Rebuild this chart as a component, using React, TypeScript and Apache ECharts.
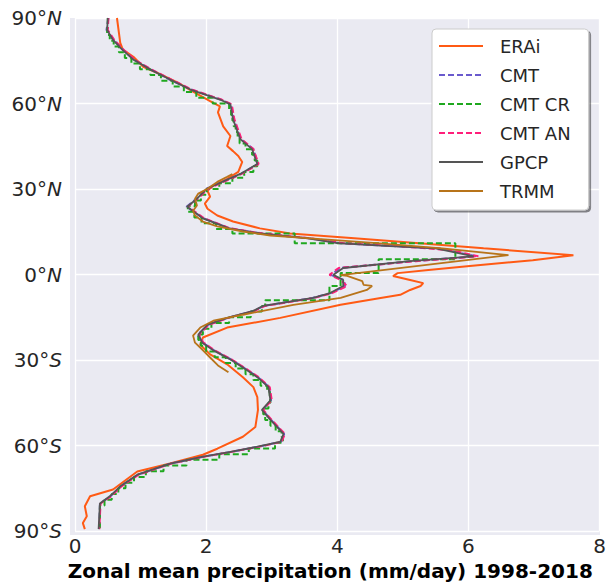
import React, { useEffect, useRef } from "react";
import * as echarts from "echarts";

// ---------- data (latitude in degrees, precipitation in mm/day) ----------
const xTickLabels = ["0", "2", "4", "6", "8"];
const yTickValues = [-90, -60, -30, 0, 30, 60, 90];
const yTickNumbers = ["90°", "60°", "30°", "0°", "30°", "60°", "90°"];
const yTickHemis = ["S", "S", "S", "N", "N", "N", "N"];
const xAxisTitle = "Zonal mean precipitation (mm/day) 1998-2018";

const seriesNames = ["ERAi", "CMT", "CMT CR", "CMT AN", "GPCP", "TRMM"];

const eraiLat = [90, 81.3, 78.9, 76.4, 72.9, 70.8, 67.4, 64.2, 60.8, 59.0, 56.9, 52.0, 48.6, 45.1, 43.3, 41.6, 39.5, 36.0, 33.6, 31.2, 29.4, 27.3, 24.9, 23.1, 20.7, 18.6, 16.2, 14.4, 12.7, 11.0, 9.2, 6.8, 5.0, 3.0, 1.6, 0.5, -0.5, -1.9, -3.0, -4.0, -5.4, -7.1, -8.2, -10.6, -15.2, -18.6, -22.1, -24.6, -28.0, -31.5, -36.0, -39.5, -43.0, -47.5, -53.5, -56.9, -61.1, -63.2, -66.3, -69.1, -75.4, -77.8, -81.3, -84.8, -87.2, -89.3];
const eraiVal = [0.64, 0.69, 0.73, 0.89, 1.04, 1.25, 1.56, 1.80, 2.06, 2.21, 2.18, 2.26, 2.37, 2.32, 2.41, 2.49, 2.55, 2.49, 2.32, 2.11, 2.02, 2.06, 1.98, 2.02, 2.17, 2.41, 2.82, 3.28, 4.26, 5.25, 6.23, 7.60, 6.98, 6.02, 5.39, 4.92, 4.85, 5.11, 5.31, 5.27, 5.11, 4.96, 4.66, 4.05, 3.13, 2.32, 1.95, 1.91, 2.06, 2.32, 2.56, 2.72, 2.78, 2.79, 2.75, 2.56, 2.17, 1.95, 1.45, 0.95, 0.58, 0.23, 0.15, 0.18, 0.12, 0.15];

const gpcpLat = [90, 85.8, 82.3, 78.9, 75.4, 71.9, 68.4, 64.9, 61.4, 59.7, 54.5, 47.5, 44.0, 38.8, 35.3, 30.1, 26.6, 23.8, 19.7, 16.2, 14.4, 12.7, 11.0, 10.0, 9.2, 6.4, 4.7, 2.3, -0.1, -1.9, -4.0, -6.5, -8.2, -11.0, -12.7, -15.2, -17.6, -21.1, -23.9, -26.6, -29.8, -32.6, -36.0, -39.5, -44.1, -47.5, -51.0, -55.9, -58.7, -60.4, -62.2, -63.9, -66.3, -70.2, -74.3, -77.8, -80.3, -89.3];
const gpcpVal = [0.50, 0.49, 0.58, 0.72, 0.89, 1.15, 1.45, 1.76, 2.21, 2.37, 2.41, 2.52, 2.70, 2.78, 2.52, 2.01, 1.86, 1.71, 1.95, 2.35, 2.82, 3.55, 4.00, 4.80, 5.50, 6.08, 5.11, 4.09, 3.94, 4.09, 4.09, 3.89, 3.63, 2.87, 2.72, 2.32, 2.02, 1.88, 1.94, 2.11, 2.37, 2.56, 2.78, 2.95, 2.98, 2.85, 2.98, 3.18, 3.13, 2.78, 2.37, 1.95, 1.45, 0.95, 0.69, 0.53, 0.38, 0.36];

const cmtLat = [90, 85.8, 82.3, 78.9, 75.4, 71.9, 68.4, 64.9, 61.4, 59.7, 54.5, 47.5, 44.0, 38.8, 35.3, 30.1, 26.6, 23.8, 19.7, 16.2, 14.4, 12.7, 11.0, 10.0, 9.2, 6.4, 4.7, 2.3, -0.1, -1.9, -4.0, -6.5, -8.2, -11.0, -12.7, -15.2, -17.6, -21.1, -23.9, -26.6, -29.8, -32.6, -36.0, -39.5, -44.1, -47.5, -51.0, -55.9, -58.7, -60.4, -62.2, -63.9, -66.3, -70.2, -74.3, -77.8, -80.3, -89.3];
const cmtVal = [0.51, 0.48, 0.59, 0.73, 0.90, 1.16, 1.44, 1.77, 2.22, 2.38, 2.42, 2.53, 2.72, 2.79, 2.53, 2.00, 1.85, 1.70, 1.96, 2.36, 2.84, 3.58, 4.05, 4.85, 5.55, 6.12, 5.15, 4.05, 3.90, 4.10, 4.12, 3.90, 3.62, 2.88, 2.73, 2.33, 2.03, 1.87, 1.95, 2.12, 2.38, 2.57, 2.79, 2.96, 2.99, 2.86, 2.99, 3.19, 3.14, 2.79, 2.38, 1.96, 1.46, 0.96, 0.70, 0.54, 0.38, 0.37];

const cmtAnLat = [90, 85.8, 82.3, 78.9, 75.4, 71.9, 68.4, 64.9, 61.4, 59.7, 54.5, 47.5, 44.0, 38.8, 35.3, 30.1, 26.6, 23.8, 19.7, 16.2, 14.4, 12.7, 11.0, 10.0, 8.5, 6.4, 4.7, 2.3, -0.1, -1.9, -4.0, -6.5, -8.2, -11.0, -12.7, -15.2, -17.6, -21.1, -23.9, -26.6, -29.8, -32.6, -36.0, -39.5, -44.1, -47.5, -51.0, -55.9, -58.7, -60.4, -62.2, -63.9, -66.3, -70.2, -74.3, -77.8, -80.3, -89.3];
const cmtAnVal = [0.51, 0.50, 0.60, 0.74, 0.91, 1.17, 1.47, 1.78, 2.23, 2.39, 2.43, 2.54, 2.72, 2.80, 2.54, 2.03, 1.87, 1.72, 1.97, 2.37, 2.86, 3.60, 4.10, 4.90, 5.75, 6.15, 5.20, 4.02, 3.88, 4.05, 4.15, 3.92, 3.65, 2.90, 2.74, 2.34, 2.04, 1.89, 1.96, 2.13, 2.39, 2.58, 2.80, 2.97, 3.00, 2.87, 3.00, 3.20, 3.15, 2.80, 2.39, 1.97, 1.47, 0.97, 0.71, 0.55, 0.39, 0.37];

const cmtCrLat = [90, 88, 86, 84, 82, 80, 78, 76, 74, 72, 70, 68, 66, 64, 62, 60, 58, 56, 54, 52, 50, 48, 46, 44, 42, 40, 38, 36, 34, 32, 30, 28, 26, 24, 22, 20, 18, 16, 14.4, 11.0, 5.4, 0.5, -4.0, -9.0, -11, -13, -15, -17, -19, -21, -23, -25, -27, -29, -31, -33, -35, -37, -39, -41, -43, -45, -47, -49, -51, -53, -55, -57, -59, -61, -63, -65, -67, -69, -71, -73, -75, -77, -79, -81, -90];
const cmtCrVal = [0.50, 0.49, 0.49, 0.53, 0.59, 0.67, 0.76, 0.86, 0.99, 1.15, 1.31, 1.49, 1.66, 1.85, 2.10, 2.35, 2.38, 2.40, 2.42, 2.45, 2.48, 2.51, 2.60, 2.70, 2.74, 2.78, 2.72, 2.58, 2.40, 2.20, 2.01, 1.92, 1.83, 1.72, 1.82, 1.93, 2.15, 2.40, 3.35, 5.80, 4.63, 4.05, 3.88, 2.90, 2.85, 2.68, 2.35, 2.08, 1.95, 1.88, 1.92, 2.00, 2.13, 2.30, 2.45, 2.60, 2.72, 2.83, 2.93, 2.97, 2.98, 2.95, 2.87, 2.90, 2.98, 3.06, 3.15, 3.17, 3.05, 2.65, 2.20, 1.70, 1.35, 1.08, 0.90, 0.77, 0.66, 0.56, 0.45, 0.38, 0.38];

const trmmLat = [35.3, 34.3, 32.5, 30.1, 28.4, 26.6, 24.2, 22.4, 20.7, 18.6, 16.9, 15.1, 13.7, 12.7, 11.0, 9.2, 6.8, -0.2, -0.5, -2.3, -3.6, -4.0, -5.4, -8.2, -10.6, -14.1, -16.2, -18.6, -21.4, -23.9, -26.3, -29.1, -31.9, -34.3];
const trmmVal = [2.40, 2.32, 2.17, 2.02, 1.88, 1.83, 1.86, 1.80, 1.83, 1.95, 2.17, 2.56, 2.98, 3.59, 4.60, 5.60, 6.61, 4.05, 4.15, 4.38, 4.40, 4.53, 4.45, 4.05, 3.33, 2.56, 2.11, 1.91, 1.80, 1.83, 1.94, 2.06, 2.18, 2.34];

const colors = ["#ff5a14", "#6a5acd", "#1fa81f", "#ff1f7a", "#555555", "#b8741a"];

function pairs(vals: number[], lats: number[]) {
  return vals.map((v, i) => [v, lats[i]]);
}

export default function App() {
  const ref = useRef<HTMLDivElement>(null);

  useEffect(() => {
    if (!ref.current) return;
    const chart = echarts.init(ref.current, null, { renderer: "svg" });
    const font = "DejaVu Sans";
    const textColor = "#262626";

    const datasets = [
      { data: pairs(eraiVal, eraiLat), dash: "solid", width: 2, step: false },
      { data: pairs(cmtVal, cmtLat), dash: [6, 3], width: 2, step: false },
      { data: pairs(cmtCrVal, cmtCrLat), dash: [6, 3], width: 2, step: true },
      { data: pairs(cmtAnVal, cmtAnLat), dash: [6, 3], width: 2, step: false },
      { data: pairs(gpcpVal, gpcpLat), dash: "solid", width: 1.8, step: false },
      { data: pairs(trmmVal, trmmLat), dash: "solid", width: 1.8, step: false },
    ];

    const series = datasets.map((d, i) => ({
      name: seriesNames[i],
      type: "line",
      data: d.data,
      symbol: "none",
      showSymbol: false,
      step: d.step ? "start" : false,
      color: colors[i],
      lineStyle: { color: colors[i], width: d.width, type: d.dash },
      emphasis: { disabled: true },
      z: 2 + i,
    }));

    chart.setOption({
      animation: false,
      backgroundColor: "#ffffff",
      textStyle: { fontFamily: font },
      graphic: [
        {
          type: "rect",
          z: -10,
          silent: true,
          shape: { x: 70, y: 18, width: 530, height: 517 },
          style: { fill: "#EAEAF2" },
        },
      ],
      grid: { left: 75, right: 9, top: 18, bottom: 51, containLabel: false },
      xAxis: {
        type: "value",
        min: 0,
        max: 8,
        interval: 2,
        name: xAxisTitle,
        nameLocation: "middle",
        nameGap: 25,
        nameTextStyle: {
          fontFamily: font,
          fontSize: 20,
          fontWeight: "bold",
          color: "#000000",
          padding: [0, 14, 0, 0],
        },
        axisLine: { show: false },
        axisTick: { show: false },
        axisLabel: {
          fontFamily: font,
          fontSize: 20,
          color: textColor,
          margin: 5,
          formatter: (v: number) => xTickLabels[Math.round(v / 2)] ?? "",
        },
        splitLine: { show: true, lineStyle: { color: "#ffffff", width: 1.3 } },
      },
      yAxis: {
        type: "value",
        min: -90,
        max: 90,
        interval: 30,
        axisLine: { show: false },
        axisTick: { show: false },
        axisLabel: {
          margin: 13,
          formatter: (v: number) => {
            const i = yTickValues.indexOf(Math.round(v));
            if (i < 0) return "";
            return `{n|${yTickNumbers[i]}}{h|${yTickHemis[i]}}`;
          },
          rich: {
            n: { fontFamily: font, fontSize: 20, color: textColor },
            h: { fontFamily: font, fontSize: 20, color: textColor, fontStyle: "italic" },
          },
        },
        splitLine: { show: true, lineStyle: { color: "#ffffff", width: 1.3 } },
      },
      legend: {
        data: seriesNames,
        orient: "vertical",
        left: 432,
        top: 29,
        itemWidth: 44,
        itemHeight: 14,
        itemGap: 11,
        padding: [8, 18, 10, 6],
        backgroundColor: "#ffffff",
        borderColor: "#cccccc",
        borderWidth: 1,
        borderRadius: 4,
        shadowColor: "rgba(0,0,0,0.45)",
        shadowOffsetX: 2,
        shadowOffsetY: 2,
        shadowBlur: 1,
        itemStyle: { opacity: 0 },
        textStyle: {
          fontFamily: font,
          fontSize: 18,
          color: textColor,
          padding: [0, 0, 0, 12],
        },
        selectedMode: false,
      },
      series,
    });

    return () => chart.dispose();
  }, []);

  return (
    <div
      ref={ref}
      style={{ position: "fixed", left: 0, top: 0, width: 609, height: 586, background: "#fff" }}
    />
  );
}
